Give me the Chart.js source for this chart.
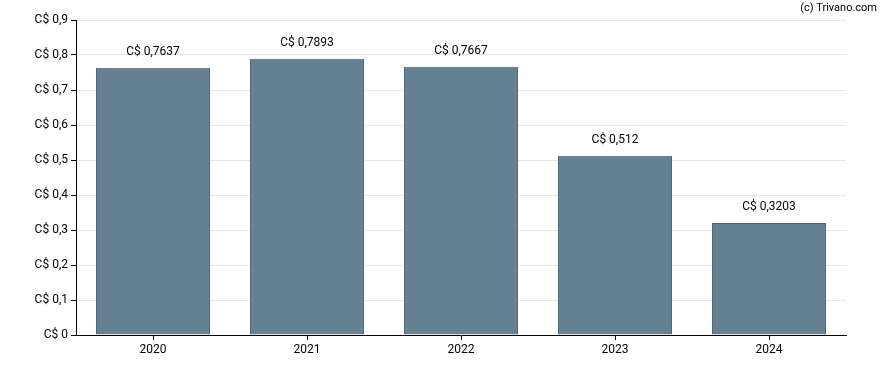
<!DOCTYPE html>
<html>
<head>
<meta charset="utf-8">
<script src="https://cdn.jsdelivr.net/npm/chart.js@4"></script>
<style>
  html, body { margin: 0; padding: 0; background: #fff; }
  #wrap { width: 888px; height: 370px; position: relative; }
</style>
</head>
<body>
<div id="wrap"><canvas id="myChart"></canvas></div>
<script>
var years = ['2020', '2021', '2022', '2023', '2024'];
var dividends = [0.7637, 0.7893, 0.7667, 0.512, 0.3203];
var yTicks = [0, 0.1, 0.2, 0.3, 0.4, 0.5, 0.6, 0.7, 0.8, 0.9];

function fmt(v) {
    return 'C$ ' + String(v).replace('.', ',');
}

// value labels above the bars + watermark
var labelPlugin = {
    id: 'labels',
    afterDatasetsDraw: function(chart) {
        var ctx = chart.ctx;
        var meta = chart.getDatasetMeta(0);
        ctx.save();
        ctx.font = '12px Roboto';
        ctx.fillStyle = '#000';
        ctx.textAlign = 'center';
        ctx.textBaseline = 'bottom';
        meta.data.forEach(function(bar, i) {
            ctx.fillText(fmt(dividends[i]), bar.x, bar.y - 10);
        });
        ctx.font = '11px Roboto';
        ctx.textAlign = 'right';
        ctx.textBaseline = 'middle';
        ctx.fillText('(c) Trivano.com', 877, 8);
        ctx.restore();
    }
};

var ctx = document.getElementById('myChart');
var barChart = new Chart(ctx, {
    type: 'bar',
    data: {
        labels: years,
        datasets: [
            {
                data: dividends,
                backgroundColor: '#668093',
                borderColor: '#4a6275',
                borderWidth: 1,
                categoryPercentage: 0.74,
                barPercentage: 1
            }
        ]
    },
    options: {
        responsive: true,
        maintainAspectRatio: false,
        animation: false,
        layout: {
            padding: { top: 20, right: 42, left: 0, bottom: 0 }
        },
        plugins: {
            legend: { display: false },
            tooltip: { enabled: false }
        },
        scales: {
            x: {
                grid: {
                    offset: false,
                    drawOnChartArea: false,
                    color: '#000',
                    tickColor: '#000',
                    tickLength: 5
                },
                border: { color: '#000', width: 1 },
                ticks: {
                    color: '#000',
                    font: { family: 'Roboto', size: 12 },
                    padding: 3
                },
                afterFit: function(s) { s.height = 35; }
            },
            y: {
                min: 0,
                max: 0.9,
                afterBuildTicks: function(s) {
                    s.ticks = yTicks.map(function(v) { return { value: v }; });
                },
                grid: {
                    color: '#e6e6e6',
                    tickColor: '#000',
                    tickLength: 5
                },
                border: { color: '#000', width: 1 },
                ticks: {
                    color: '#000',
                    font: { family: 'Roboto', size: 12 },
                    padding: 3,
                    callback: function(v) { return fmt(Math.round(v * 10) / 10); }
                },
                afterFit: function(s) { s.width = 76; }
            }
        }
    },
    plugins: [labelPlugin]
});
</script>
</body>
</html>
